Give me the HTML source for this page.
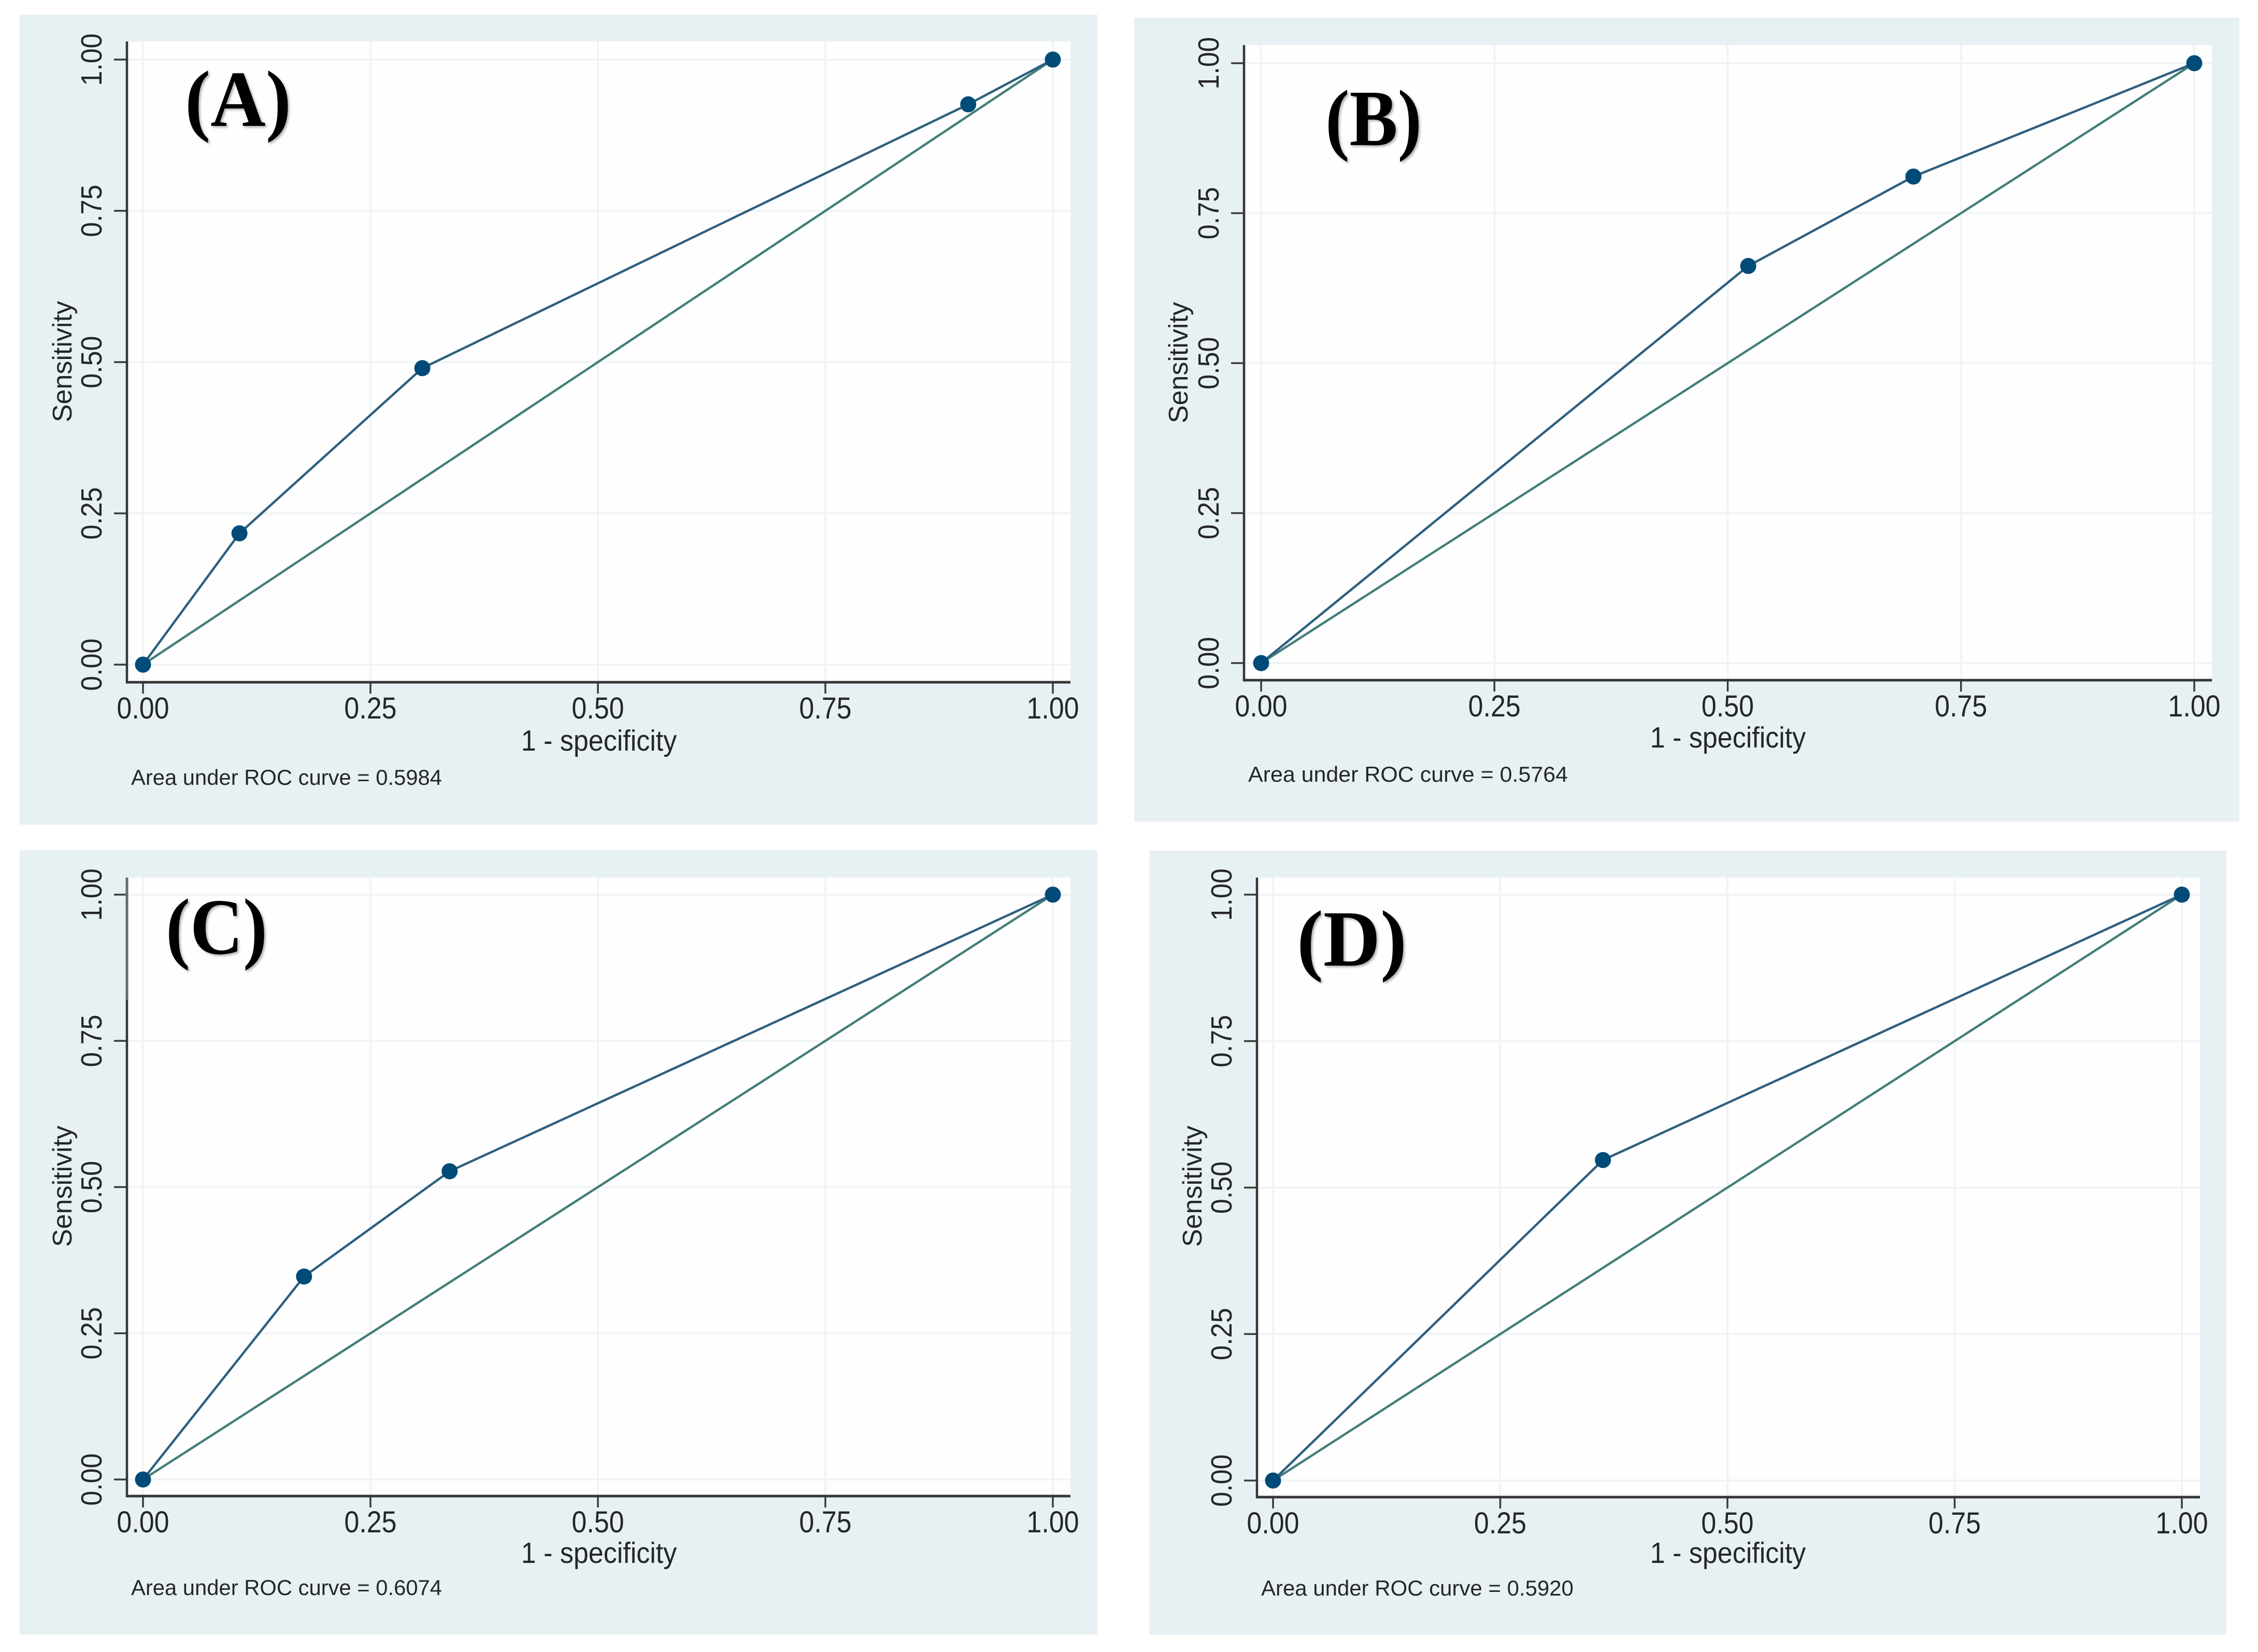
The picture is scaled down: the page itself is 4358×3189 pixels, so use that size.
<!DOCTYPE html>
<html lang="en">
<head>
<meta charset="utf-8">
<title>ROC curves (A)–(D)</title>
<style>
html,body{margin:0;padding:0;background:#fff;}
svg{display:block;}
text{font-family:"Liberation Sans",sans-serif;fill:#262626;}
.tick{font-size:52px;}
.title{font-size:52px;}
.auc{font-size:42px;}
.letter{font-family:"Liberation Serif",serif;font-weight:700;font-size:154px;fill:#000;filter:drop-shadow(3px 3px 2px rgba(0,0,0,.3));}
</style>
</head>
<body>
<svg id="chart" xmlns="http://www.w3.org/2000/svg" width="4358" height="3189" viewBox="0 0 4358 3189"></svg>
<script>
const tickValues = [0, 0.25, 0.5, 0.75, 1];
const tickLabels = ['0.00', '0.25', '0.50', '0.75', '1.00'];
const specA = [0, 0.106, 0.307, 0.907, 1];
const sensA = [0, 0.217, 0.49, 0.926, 1];
const specB = [0, 0.522, 0.699, 1];
const sensB = [0, 0.662, 0.811, 1];
const specC = [0, 0.177, 0.337, 1];
const sensC = [0, 0.347, 0.527, 1];
const specD = [0, 0.363, 1];
const sensD = [0, 0.547, 1];
const refLine = [0, 1];
const aucLabels = ['Area under ROC curve = 0.5984', 'Area under ROC curve = 0.5764', 'Area under ROC curve = 0.6074', 'Area under ROC curve = 0.5920'];
const panelLetters = ['(A)', '(B)', '(C)', '(D)'];

const frames = [
  {id:'a', fx:38, fy:28, fr:2118, fb:1592, pl:245, pt:80, pr:2066, pb:1317, x0:276, x1:2032, y0:1283, y1:115, titleX:1156, titleY:1449, aucX:253, aucY:1515, aucW:600, ytY:698, ytX:138, lx:357, ly:243, lw:205, gray:0},
  {id:'b', fx:2189, fy:34, fr:4322, fb:1586, pl:2401, pt:87, pr:4269, pb:1313, x0:2434, x1:4235, y0:1280, y1:122, titleX:3335, titleY:1443, aucX:2409, aucY:1509, aucW:617, ytY:700, ytX:2292, lx:2558, ly:280, lw:186, gray:0},
  {id:'c', fx:38, fy:1641, fr:2118, fb:3155, pl:245, pt:1694, pr:2066, pb:2888, x0:276, x1:2032, y0:2856, y1:1727, titleX:1156, titleY:3017, aucX:253, aucY:3079, aucW:600, ytY:2290, ytX:138, lx:320, ly:1841, lw:196, gray:1930},
  {id:'d', fx:2218, fy:1642, fr:4297, fb:3156, pl:2426, pt:1694, pr:4246, pb:2890, x0:2457, x1:4211, y0:2858, y1:1727, titleX:3335, titleY:3017, aucX:2434, aucY:3080, aucW:603, ytY:2290, ytX:2319, lx:2503, ly:1864, lw:212, gray:0}
];
const curvesX = [specA, specB, specC, specD];
const curvesY = [sensA, sensB, sensC, sensD];

const NS = 'http://www.w3.org/2000/svg';
const root = document.getElementById('chart');
function make(parent, tag, attrs, txt) {
  const el = document.createElementNS(NS, tag);
  for (const k in attrs) el.setAttribute(k, attrs[k]);
  if (txt !== undefined) el.textContent = txt;
  parent.appendChild(el);
  return el;
}

frames.forEach(function (f, i) {
  const xs = function (v) { return f.x0 + (f.x1 - f.x0) * v; };
  const ys = function (v) { return f.y0 + (f.y1 - f.y0) * v; };

  const g = make(root, 'g', {});
  
  

  const bg = make(g, 'rect', {x:f.fx, y:f.fy, width:f.fr - f.fx, height:f.fb - f.fy, fill:'#e7f1f3'});
  
  

  const plot = make(g, 'rect', {x:f.pl, y:f.pt, width:f.pr - f.pl, height:f.pb - f.pt, fill:'#fefefe'});
  
  

  tickValues.forEach(function (v, t) {
    const gx = make(g, 'line', {x1:xs(v), x2:xs(v), y1:f.pt, y2:f.pb, stroke:'#f0f4f4', 'stroke-width':4});
    
    

    const gy = make(g, 'line', {x1:f.pl, x2:f.pr, y1:ys(v), y2:ys(v), stroke:'#f0f4f4', 'stroke-width':4});
    
    

    const tx = make(g, 'line', {x1:xs(v), x2:xs(v), y1:f.pb, y2:f.pb + 22, stroke:'#3a3a3a', 'stroke-width':3.5});
    
    

    const ty = make(g, 'line', {x1:f.pl - 25, x2:f.pl, y1:ys(v), y2:ys(v), stroke:'#3a3a3a', 'stroke-width':3.5});
    
    

    const lx = make(g, 'text', {class:'tick', 'text-anchor':'middle', transform:'translate(' + xs(v) + ' ' + (f.pb + 70) + ') scale(1 1.13)'}, tickLabels[t]);
    
    

    const yy = ys(v);
    const bx = f.pl - 49;
    const ly = make(g, 'text', {class:'tick', 'text-anchor':'middle', transform:'translate(' + bx + ' ' + yy + ') rotate(-90) scale(1 1.08)'}, tickLabels[t]);
    
    
  });

  const axisY = make(g, 'line', {x1:f.pl, x2:f.pl, y1:f.pt, y2:f.pb + 2, stroke:'#363636', 'stroke-width':4.5});
  
  

  if (f.gray) {
    const axisFade = make(g, 'line', {x1:f.pl, x2:f.pl, y1:f.pt, y2:f.gray, stroke:'#6a6a6a', 'stroke-width':5});
    
    
  }

  const axisX = make(g, 'line', {x1:f.pl - 2, x2:f.pr, y1:f.pb, y2:f.pb, stroke:'#363636', 'stroke-width':5});
  
  

  const ref = make(g, 'line', {x1:xs(refLine[0]), y1:ys(refLine[0]), x2:xs(refLine[1]), y2:ys(refLine[1]), stroke:'#447f7b', 'stroke-width':4.5});
  
  

  const pts = curvesX[i].map(function (v, k) { return xs(v) + ',' + ys(curvesY[i][k]); }).join(' ');
  const line = make(g, 'polyline', {points:pts, fill:'none', stroke:'#2f5f80', 'stroke-width':4.5, 'stroke-linejoin':'round'});
  
  

  curvesX[i].forEach(function (v, k) {
    const dot = make(g, 'circle', {cx:xs(v), cy:ys(curvesY[i][k]), r:15.5, fill:'#004b78'});
    
    
  });

  const title = make(g, 'text', {class:'title', 'text-anchor':'middle', transform:'translate(' + f.titleX + ' ' + f.titleY + ') scale(1 1.08)'}, '1 - specificity');
  
  

  const yt = make(g, 'text', {class:'title', x:f.ytX, y:f.ytY, 'text-anchor':'middle', transform:'rotate(-90 ' + f.ytX + ' ' + f.ytY + ')'}, 'Sensitivity');
  
  

  const auc = make(g, 'text', {class:'auc', x:f.aucX, y:f.aucY, textLength:f.aucW, lengthAdjust:'spacingAndGlyphs'}, aucLabels[i]);
  
  

  const letter = make(g, 'text', {class:'letter', x:f.lx, y:f.ly, textLength:f.lw, lengthAdjust:'spacingAndGlyphs'}, panelLetters[i]);
  
  
});
</script>
</body>
</html>
